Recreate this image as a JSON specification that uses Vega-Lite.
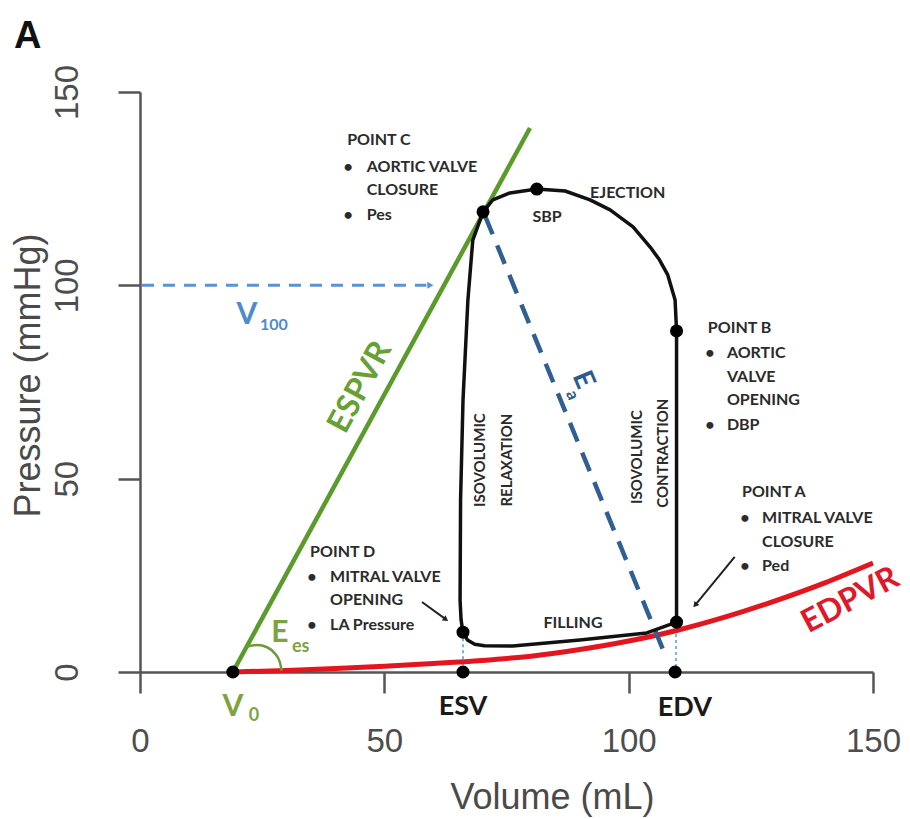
{
  "$schema": "https://vega.github.io/schema/vega-lite/v6.json",
  "width": 733,
  "height": 580,
  "autosize": {"type": "none"},
  "padding": {"left": 140, "top": 92, "right": 37, "bottom": 147},
  "background": "white",
  "config": {"view": {"stroke": null}},
  "title": {"text": "A", "anchor": "start", "frame": "bounds", "fontSize": 38, "fontWeight": "bold", "font": "Liberation Sans", "color": "#111111", "offset": 8, "dx": 4},
  "datasets": {
    "loop": [
      {"o": 1, "v": 109.8, "p": 12.9},
      {"o": 2, "v": 109.8, "p": 30},
      {"o": 3, "v": 109.8, "p": 50},
      {"o": 4, "v": 109.8, "p": 70},
      {"o": 5, "v": 109.8, "p": 88.2},
      {"o": 6, "v": 109.5, "p": 96.2},
      {"o": 7, "v": 108.0, "p": 102.7},
      {"o": 8, "v": 106.3, "p": 106.6},
      {"o": 9, "v": 104.4, "p": 109.9},
      {"o": 10, "v": 100.9, "p": 115.1},
      {"o": 11, "v": 96.2, "p": 119.5},
      {"o": 12, "v": 92.1, "p": 122.1},
      {"o": 13, "v": 87.0, "p": 124.4},
      {"o": 14, "v": 81.2, "p": 124.9},
      {"o": 15, "v": 75.7, "p": 123.9},
      {"o": 16, "v": 72.2, "p": 122.1},
      {"o": 17, "v": 70.2, "p": 119.0},
      {"o": 18, "v": 68.1, "p": 111.7},
      {"o": 19, "v": 67.1, "p": 96.2},
      {"o": 20, "v": 66.1, "p": 70.3},
      {"o": 21, "v": 65.6, "p": 44.5},
      {"o": 22, "v": 65.5, "p": 18.6},
      {"o": 23, "v": 65.7, "p": 13.5},
      {"o": 24, "v": 66.1, "p": 10.3},
      {"o": 25, "v": 67.0, "p": 8.3},
      {"o": 26, "v": 68.5, "p": 7.2},
      {"o": 27, "v": 70.5, "p": 6.8},
      {"o": 28, "v": 76.3, "p": 6.7},
      {"o": 29, "v": 90.0, "p": 8.3},
      {"o": 30, "v": 103.7, "p": 10.1},
      {"o": 31, "v": 109.8, "p": 12.9}
    ],
    "espvr": [
      {"v": 19, "p": 0},
      {"v": 79.8, "p": 140.7}
    ],
    "edpvr": [
      {"v": 19, "p": 0},
      {"v": 30, "p": 0.4},
      {"v": 40, "p": 0.9},
      {"v": 50, "p": 1.5},
      {"v": 60, "p": 2.2},
      {"v": 70, "p": 3.0},
      {"v": 80, "p": 4.1},
      {"v": 90, "p": 5.8},
      {"v": 100, "p": 8.0},
      {"v": 110, "p": 10.8},
      {"v": 120, "p": 14.3},
      {"v": 130, "p": 18.4},
      {"v": 140, "p": 23.0},
      {"v": 150, "p": 28.2}
    ],
    "v100": [
      {"v": 0.4, "p": 100},
      {"v": 58.6, "p": 100}
    ],
    "ea": [
      {"v": 70.6, "p": 118},
      {"v": 107.6, "p": 4}
    ],
    "dotted": [
      {"g": "ESV", "v": 66.1, "p": 10.3},
      {"g": "ESV", "v": 66.1, "p": 0},
      {"g": "EDV", "v": 109.7, "p": 12.9},
      {"g": "EDV", "v": 109.7, "p": 0}
    ],
    "arc": [
      {"v": 21.9, "p": 6.6},
      {"v": 24.0, "p": 7.0},
      {"v": 26.0, "p": 6.4},
      {"v": 27.6, "p": 4.8},
      {"v": 28.6, "p": 2.6},
      {"v": 29.0, "p": 0.3}
    ],
    "arrows": [
      {"v": 57.7, "p": 18.1, "v2": 62.6, "p2": 13.6},
      {"v": 121.7, "p": 29.8, "v2": 113.6, "p2": 17.3}
    ],
    "dots": [
      {"name": "V0", "v": 19, "p": 0},
      {"name": "C", "v": 70.2, "p": 119.0},
      {"name": "SBP", "v": 81.2, "p": 124.9},
      {"name": "B", "v": 109.8, "p": 88.2},
      {"name": "A", "v": 109.8, "p": 12.9},
      {"name": "D", "v": 66.1, "p": 10.3},
      {"name": "ESV", "v": 66.1, "p": 0},
      {"name": "EDV", "v": 109.5, "p": 0}
    ],
    "labelsLeft": [
      {"t": "POINT C", "v": 42.4, "p": 137.6},
      {"t": "AORTIC VALVE", "v": 46.4, "p": 130.6},
      {"t": "CLOSURE", "v": 46.4, "p": 124.6},
      {"t": "Pes", "v": 46.4, "p": 118.2},
      {"t": "POINT B", "v": 116.2, "p": 89.0},
      {"t": "AORTIC", "v": 120.1, "p": 82.5},
      {"t": "VALVE", "v": 120.1, "p": 76.3},
      {"t": "OPENING", "v": 120.1, "p": 70.3},
      {"t": "DBP", "v": 120.1, "p": 63.9},
      {"t": "POINT A", "v": 123.2, "p": 46.5},
      {"t": "MITRAL VALVE", "v": 127.3, "p": 39.8},
      {"t": "CLOSURE", "v": 127.3, "p": 33.6},
      {"t": "Ped", "v": 127.3, "p": 27.4},
      {"t": "POINT D", "v": 34.8, "p": 31.0},
      {"t": "MITRAL VALVE", "v": 38.9, "p": 24.6},
      {"t": "OPENING", "v": 38.9, "p": 18.6},
      {"t": "LA Pressure", "v": 38.9, "p": 12.2},
      {"t": "EJECTION", "v": 92.1, "p": 123.9}
    ],
    "bullets": [
      {"t": "•", "v": 42.6, "p": 130.6},
      {"t": "•", "v": 42.6, "p": 118.2},
      {"t": "•", "v": 116.6, "p": 82.5},
      {"t": "•", "v": 116.6, "p": 63.9},
      {"t": "•", "v": 123.8, "p": 39.8},
      {"t": "•", "v": 123.8, "p": 27.4},
      {"t": "•", "v": 35.2, "p": 24.6},
      {"t": "•", "v": 35.2, "p": 12.2}
    ],
    "labelsCenter": [
      {"t": "SBP", "v": 83.3, "p": 117.7},
      {"t": "FILLING", "v": 88.6, "p": 12.7}
    ],
    "labelsVertical": [
      {"t": "ISOVOLUMIC", "v": 69.6, "p": 54.8},
      {"t": "RELAXATION", "v": 75.1, "p": 54.8},
      {"t": "ISOVOLUMIC", "v": 101.7, "p": 55.6},
      {"t": "CONTRACTION", "v": 107.0, "p": 56.6}
    ],
    "bigBlack": [
      {"t": "ESV", "v": 66.1, "p": -9.1},
      {"t": "EDV", "v": 111.5, "p": -9.3}
    ]
  },
  "encoding": {
    "x": {
      "field": "v", "type": "quantitative",
      "scale": {"domain": [0, 150], "nice": false, "zero": false},
      "axis": {
        "values": [0, 50, 100, 150], "grid": false, "labelFlush": false, "labelOverlap": false,
        "tickSize": 21, "tickWidth": 2.5, "tickColor": "#555555",
        "domainColor": "#555555", "domainWidth": 2.5,
        "labelPadding": 32, "labelFontSize": 33, "labelFont": "Liberation Sans", "labelColor": "#4d4d4d", "labelAngle": 0, "labelBaseline": "top",
        "title": "Volume (mL)", "titleFontSize": 36, "titleFont": "Liberation Sans", "titleFontWeight": "normal", "titleColor": "#4a4a4a",
        "titleX": 412, "titleY": 125, "titleBaseline": "middle", "titleAlign": "center"
      }
    },
    "y": {
      "field": "p", "type": "quantitative",
      "scale": {"domain": [0, 150], "nice": false, "zero": false},
      "axis": {
        "values": [0, 50, 100, 150], "grid": false, "labelFlush": false, "labelOverlap": false,
        "tickSize": 22, "tickWidth": 2.5, "tickColor": "#555555",
        "domainColor": "#555555", "domainWidth": 2.5,
        "labelPadding": 34, "labelFontSize": 33, "labelFont": "Liberation Sans", "labelColor": "#4d4d4d",
        "labelAngle": -90, "labelAlign": "center", "labelBaseline": "bottom",
        "title": "Pressure (mmHg)", "titleFontSize": 36, "titleFont": "Liberation Sans", "titleFontWeight": "normal", "titleColor": "#4a4a4a",
        "titleX": -112, "titleY": 283, "titleAngle": -90, "titleBaseline": "middle", "titleAlign": "center"
      }
    }
  },
  "layer": [
    {"data": {"name": "v100"}, "mark": {"type": "line", "color": "#5a93d2", "strokeWidth": 3, "strokeDash": [12, 9]}},
    {"data": {"name": "v100"}, "transform": [{"filter": "datum.v > 50"}], "mark": {"type": "point", "shape": "triangle-up", "angle": 90, "filled": true, "color": "#5a93d2", "size": 50, "opacity": 1, "xOffset": 4}},
    {"data": {"name": "dotted"}, "mark": {"type": "line", "color": "#7fb0dd", "strokeWidth": 2, "strokeDash": [3, 3]}, "encoding": {"detail": {"field": "g"}}},
    {"data": {"name": "edpvr"}, "mark": {"type": "line", "color": "#e3161f", "strokeWidth": 5, "interpolate": "monotone"}},
    {"data": {"name": "espvr"}, "mark": {"type": "line", "color": "#5a9b2c", "strokeWidth": 4.5}},
    {"data": {"name": "arc"}, "mark": {"type": "line", "color": "#6f9a3c", "strokeWidth": 2.5, "interpolate": "monotone"}},
    {"data": {"name": "ea"}, "mark": {"type": "line", "color": "#2f5f93", "strokeWidth": 4.5, "strokeDash": [20, 12]}},
    {"data": {"name": "loop"}, "mark": {"type": "line", "color": "#111111", "strokeWidth": 3.5, "strokeJoin": "round"}, "encoding": {"order": {"field": "o", "type": "quantitative"}}},
    {"data": {"name": "arrows"}, "mark": {"type": "rule", "color": "#222222", "strokeWidth": 2}, "encoding": {"x2": {"field": "v2"}, "y2": {"field": "p2"}}},
    {"data": {"name": "arrows"}, "transform": [{"filter": "datum.v < 100"}], "mark": {"type": "point", "shape": "triangle-up", "angle": 125, "filled": true, "color": "#222222", "size": 40, "opacity": 1}, "encoding": {"x": {"field": "v2", "type": "quantitative"}, "y": {"field": "p2", "type": "quantitative"}}},
    {"data": {"name": "arrows"}, "transform": [{"filter": "datum.v > 100"}], "mark": {"type": "point", "shape": "triangle-up", "angle": 220, "filled": true, "color": "#222222", "size": 40, "opacity": 1}, "encoding": {"x": {"field": "v2", "type": "quantitative"}, "y": {"field": "p2", "type": "quantitative"}}},
    {"data": {"name": "dots"}, "mark": {"type": "circle", "color": "#000000", "size": 170, "opacity": 1}},
    {"data": {"name": "labelsLeft"}, "mark": {"type": "text", "font": "Lato", "fontWeight": "bold", "fontSize": 16, "color": "#2b2b2b", "align": "left", "baseline": "middle"}, "encoding": {"text": {"field": "t"}}},
    {"data": {"name": "bullets"}, "mark": {"type": "text", "font": "Lato", "fontWeight": "bold", "fontSize": 16, "color": "#2b2b2b", "align": "center", "baseline": "middle"}, "encoding": {"text": {"field": "t"}}},
    {"data": {"name": "labelsCenter"}, "mark": {"type": "text", "font": "Lato", "fontWeight": "bold", "fontSize": 16, "color": "#2b2b2b", "align": "center", "baseline": "middle"}, "encoding": {"text": {"field": "t"}}},
    {"data": {"name": "labelsVertical"}, "mark": {"type": "text", "font": "Lato", "fontWeight": "bold", "fontSize": 15, "color": "#2b2b2b", "align": "center", "baseline": "middle", "angle": -90}, "encoding": {"text": {"field": "t"}}},
    {"data": {"name": "bigBlack"}, "mark": {"type": "text", "font": "Lato", "fontWeight": "bold", "fontSize": 27, "color": "#1a1a1a", "align": "center", "baseline": "middle"}, "encoding": {"text": {"field": "t"}}},
    {"data": {"values": [{"t": "ESPVR", "v": 45.0, "p": 73.7}]}, "mark": {"type": "text", "font": "Lato", "fontWeight": "bold", "fontSize": 32, "color": "#68a035", "align": "center", "baseline": "middle", "angle": -61.4}, "encoding": {"text": {"field": "t"}}},
    {"data": {"values": [{"t": "EDPVR", "v": 145.3, "p": 18.6}]}, "mark": {"type": "text", "font": "Lato", "fontWeight": "bold", "fontSize": 32, "color": "#e0192a", "align": "center", "baseline": "middle", "angle": -28}, "encoding": {"text": {"field": "t"}}},
    {"data": {"values": [{"t": "V", "v": 19.0, "p": -9.1}, {"t": "E", "v": 28.6, "p": 10.1}]}, "mark": {"type": "text", "font": "Lato", "fontWeight": "bold", "fontSize": 30, "color": "#7ea23f", "align": "center", "baseline": "middle"}, "encoding": {"text": {"field": "t"}}},
    {"data": {"values": [{"t": "0", "v": 23.3, "p": -11.3}, {"t": "es", "v": 32.9, "p": 6.4}]}, "mark": {"type": "text", "font": "Lato", "fontWeight": "bold", "fontSize": 18, "color": "#7ea23f", "align": "center", "baseline": "middle"}, "encoding": {"text": {"field": "t"}}},
    {"data": {"values": [{"t": "V", "v": 21.9, "p": 92.3}]}, "mark": {"type": "text", "font": "Lato", "fontWeight": "bold", "fontSize": 30, "color": "#4d8bcc", "align": "center", "baseline": "middle"}, "encoding": {"text": {"field": "t"}}},
    {"data": {"values": [{"t": "100", "v": 27.4, "p": 89.7}]}, "mark": {"type": "text", "font": "Lato", "fontWeight": "bold", "fontSize": 16, "color": "#4d8bcc", "align": "center", "baseline": "middle"}, "encoding": {"text": {"field": "t"}}},
    {"data": {"values": [{"t": "E", "v": 90.6, "p": 75.5}]}, "mark": {"type": "text", "font": "Lato", "fontWeight": "bold", "fontSize": 28, "color": "#2f5b8c", "align": "center", "baseline": "middle", "angle": 67}, "encoding": {"text": {"field": "t"}}},
    {"data": {"values": [{"t": "a", "v": 88.4, "p": 71.6}]}, "mark": {"type": "text", "font": "Lato", "fontWeight": "bold", "fontSize": 17, "color": "#2f5b8c", "align": "center", "baseline": "middle", "angle": 67}, "encoding": {"text": {"field": "t"}}}
  ]
}
